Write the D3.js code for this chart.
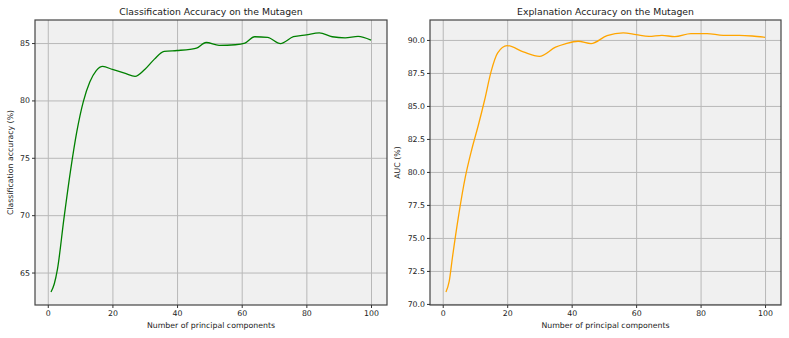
<!DOCTYPE html>
<html>
<head>
<meta charset="utf-8">
<script src="https://cdn.jsdelivr.net/npm/d3@7"></script>
<style>
  body { margin: 0; background: #fff; }
  svg { display: block; font-family: "DejaVu Sans", sans-serif; }
  .tick text { fill: #222; }
</style>
</head>
<body>
<script>
// values
var clsComponents = [1, 2, 3, 5, 7, 9, 11, 13, 15, 17, 20, 24, 27, 30, 33, 36, 40, 44, 46, 49, 53, 58, 61, 64, 68, 72, 76, 80, 84, 88, 92, 96, 100];
var clsAccuracy = [63.3, 64.0, 65.3, 69.7, 73.8, 77.3, 79.9, 81.6, 82.6, 82.96, 82.7, 82.35, 82.1, 82.7, 83.6, 84.27, 84.35, 84.45, 84.55, 85.05, 84.8, 84.85, 85.0, 85.55, 85.5, 84.95, 85.55, 85.72, 85.88, 85.55, 85.45, 85.58, 85.25];

var aucComponents = [1, 2, 3, 5, 7, 9, 11, 13, 15, 17, 20, 25, 30, 35, 38, 42, 46, 51, 56, 60, 64, 68, 72, 77, 82, 87, 92, 96, 100];
var aucValues = [70.9, 71.7, 73.5, 76.8, 79.6, 81.7, 83.5, 85.45, 87.6, 89.0, 89.57, 89.1, 88.76, 89.45, 89.7, 89.9, 89.72, 90.33, 90.53, 90.4, 90.27, 90.35, 90.25, 90.48, 90.48, 90.35, 90.35, 90.3, 90.2];

var xTicks = [0, 20, 40, 60, 80, 100];
var clsTicks = [65, 70, 75, 80, 85];
var aucTicks = [70.0, 72.5, 75.0, 77.5, 80.0, 82.5, 85.0, 87.5, 90.0];

var svg = d3.select("body").append("svg")
  .attr("width", 789)
  .attr("height", 338);

// matplotlib style 5% margins around the data
function padded(vals) {
  var lo = d3.min(vals), hi = d3.max(vals), m = (hi - lo) * 0.05;
  return [lo - m, hi + m];
}

function panel(opts) {
  var g = svg.append("g")
    .attr("transform", "translate(" + opts.left + "," + opts.top + ")");
  var w = opts.width, h = opts.height;

  var x = d3.scaleLinear().domain(padded(opts.xs)).range([0, w]);
  var y = d3.scaleLinear().domain(padded(opts.ys)).range([h, 0]);

  g.append("rect")
    .attr("width", w).attr("height", h)
    .attr("fill", "#f0f0f0");

  // grid
  g.append("g")
    .attr("transform", "translate(0," + h + ")")
    .call(d3.axisBottom(x).tickValues(xTicks).tickSize(-h).tickFormat(""))
    .call(function(a) {
      a.select(".domain").remove();
      a.selectAll("line").attr("stroke", "#b8b8b8").attr("stroke-width", 1);
    });
  g.append("g")
    .call(d3.axisLeft(y).tickValues(opts.yTicks).tickSize(-w).tickFormat(""))
    .call(function(a) {
      a.select(".domain").remove();
      a.selectAll("line").attr("stroke", "#b8b8b8").attr("stroke-width", 1);
    });

  // the line
  var line = d3.line()
    .x(function(d, i) { return x(opts.xs[i]); })
    .y(function(d) { return y(d); })
    .curve(d3.curveMonotoneX);

  g.append("path")
    .datum(opts.ys)
    .attr("fill", "none")
    .attr("stroke", opts.color)
    .attr("stroke-width", 1.3)
    .attr("d", line);

  // frame
  g.append("rect")
    .attr("width", w).attr("height", h)
    .attr("fill", "none")
    .attr("stroke", "#444")
    .attr("stroke-width", 1.2);

  // axes
  g.append("g")
    .attr("transform", "translate(0," + h + ")")
    .call(d3.axisBottom(x).tickValues(xTicks).tickSize(3).tickPadding(2))
    .call(function(a) {
      a.select(".domain").remove();
      a.selectAll("line").attr("stroke", "#333");
      a.selectAll("text").style("font-size", "7.8px").style("font-family", "DejaVu Sans");
    });
  g.append("g")
    .call(d3.axisLeft(y).tickValues(opts.yTicks).tickSize(3).tickPadding(2).tickFormat(opts.yFormat))
    .call(function(a) {
      a.select(".domain").remove();
      a.selectAll("line").attr("stroke", "#333");
      a.selectAll("text").style("font-size", "7.8px").style("font-family", "DejaVu Sans");
    });

  // title and labels
  g.append("text")
    .attr("x", w / 2)
    .attr("y", -5)
    .attr("text-anchor", "middle")
    .style("font-size", "9.3px")
    .attr("fill", "#222")
    .text(opts.title);

  g.append("text")
    .attr("x", w / 2)
    .attr("y", h + 23)
    .attr("text-anchor", "middle")
    .style("font-size", "7.8px")
    .attr("fill", "#222")
    .text("Number of principal components");

  g.append("text")
    .attr("transform", "translate(" + opts.yLabelX + "," + (h / 2) + ") rotate(-90)")
    .attr("text-anchor", "middle")
    .style("font-size", "7.8px")
    .attr("fill", "#222")
    .text(opts.yLabel);
}

panel({
  left: 35, top: 20, width: 352, height: 285,
  xs: clsComponents, ys: clsAccuracy, yTicks: clsTicks,
  yFormat: d3.format("d"), color: "#008000",
  title: "Classification Accuracy on the Mutagen",
  yLabel: "Classification accuracy (%)", yLabelX: -22
});

panel({
  left: 430, top: 20, width: 351, height: 285,
  xs: aucComponents, ys: aucValues, yTicks: aucTicks,
  yFormat: d3.format(".1f"), color: "#ffa500",
  title: "Explanation Accuracy on the Mutagen",
  yLabel: "AUC (%)", yLabelX: -30
});
</script>
</body>
</html>
